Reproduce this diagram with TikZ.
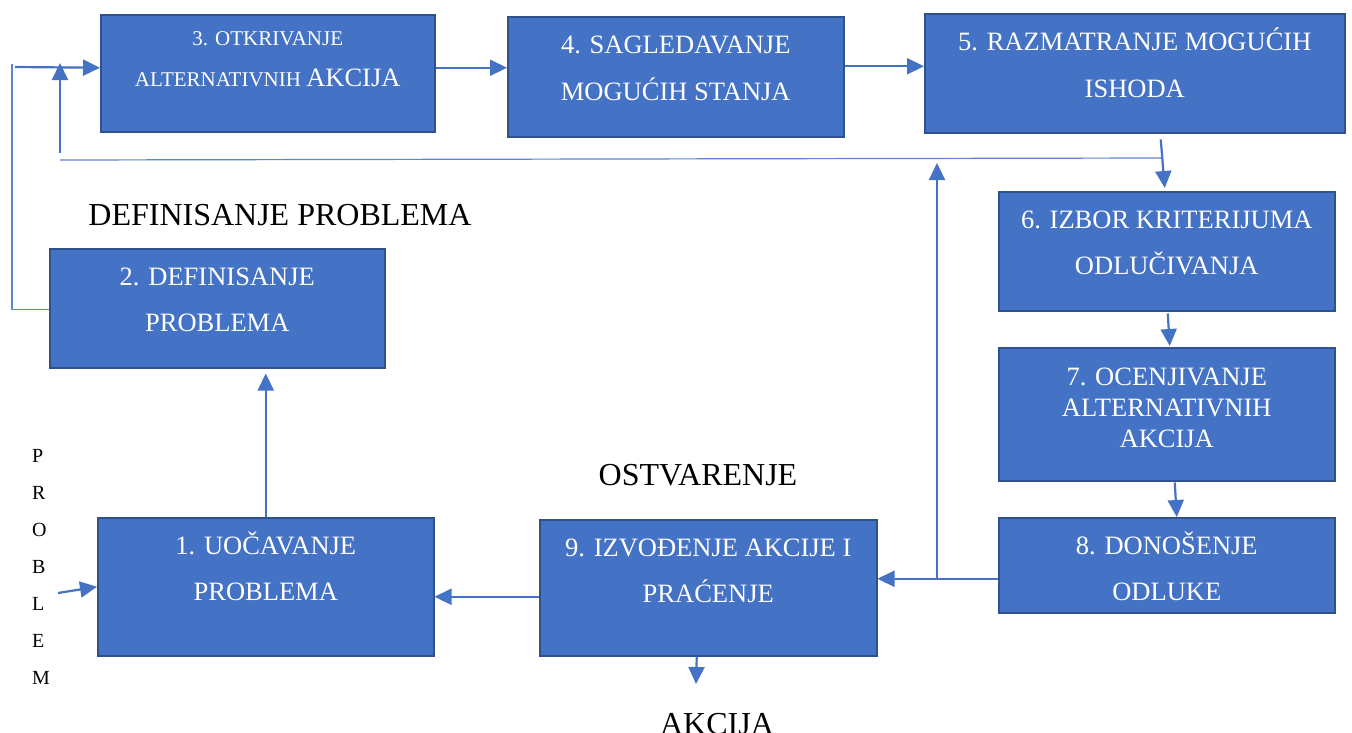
\documentclass[tikz,border=0pt]{standalone}
\usepackage{fontspec}
\setmainfont{Liberation Serif}
\usetikzlibrary{arrows.meta,calc}
\definecolor{boxblue}{HTML}{4472C4}
\definecolor{boxedge}{HTML}{2F528F}
\definecolor{linkblue}{HTML}{4472C4}
\definecolor{thinblue}{HTML}{5B86D0}
\begin{document}
\begin{tikzpicture}[x=1pt,y=-1pt,
  stage/.style={draw=boxedge, fill=boxblue, line width=1.5pt, inner sep=0pt, anchor=north west},
  % captions are anchored on the baseline of their last line
  stagetext/.style={text=white, align=center, inner sep=0pt, anchor=base,
                    font=\fontsize{26.5}{46.5}\selectfont},
  heading/.style={inner sep=0pt, anchor=base, font=\fontsize{32}{38}\selectfont},
  flow/.style={draw=linkblue, line width=2.2pt, -{Triangle[length=17pt,width=16pt]}},
  guide/.style={draw=thinblue, line width=1.2pt}]
\useasboundingbox (0,0) rectangle (1352,732);

% process stages
\node[stage, minimum width=336pt, minimum height=138pt] (b1) at (97,517) {};
\node[stage, minimum width=335pt, minimum height=119pt] (b2) at (49,248) {};
\node[stage, minimum width=334pt, minimum height=117pt] (b3) at (100,14) {};
\node[stage, minimum width=336pt, minimum height=120pt] (b4) at (507,16) {};
\node[stage, minimum width=420pt, minimum height=119pt] (b5) at (924,13) {};
\node[stage, minimum width=336pt, minimum height=119pt] (b6) at (998,191) {};
\node[stage, minimum width=336pt, minimum height=133pt] (b7) at (998,347) {};
\node[stage, minimum width=336pt, minimum height=95pt]  (b8) at (998,517) {};
\node[stage, minimum width=337pt, minimum height=136pt] (b9) at (539,519) {};

% stage captions
\node[stagetext] (t1) at ([yshift=-83.5pt]b1.north) {1. UOČAVANJE\\PROBLEMA};
\node[stagetext] (t2) at ([yshift=-83.5pt]b2.north) {2. DEFINISANJE\\PROBLEMA};
\node[stagetext, font=\fontsize{21}{41}\selectfont] (t3) at ([yshift=-72pt]b3.north)
  {3. OTKRIVANJE\\ALTERNATIVNIH {\fontsize{26.5}{41}\selectfont AKCIJA}};
\node[stagetext] (t4) at ([yshift=-84pt]b4.north) {4. SAGLEDAVANJE\\MOGUĆIH STANJA};
\node[stagetext] (t5) at ([yshift=-84pt]b5.north) {5. RAZMATRANJE MOGUĆIH\\ISHODA};
\node[stagetext] (t6) at ([yshift=-83.5pt]b6.north) {6. IZBOR KRITERIJUMA\\ODLUČIVANJA};
\node[stagetext, font=\fontsize{26.5}{31}\selectfont] (t7) at ([yshift=-100pt]b7.north)
  {7. OCENJIVANJE\\ALTERNATIVNIH\\AKCIJA};
\node[stagetext] (t8) at ([yshift=-83.5pt]b8.north) {8. DONOŠENJE\\ODLUKE};
\node[stagetext] (t9) at ([yshift=-83.5pt]b9.north) {9. IZVOĐENJE AKCIJE I\\PRAĆENJE};

% free labels
\node[heading] (lblDef) at (280,225) {DEFINISANJE PROBLEMA};
\node[heading] (lblOst) at (698,485) {OSTVARENJE};
\node[heading] (lblAk) at (717,734) {AKCIJA};
\node[inner sep=0pt, anchor=base west, align=left, font=\fontsize{20}{37}\selectfont]
  (lblP) at (32,684) {P\\R\\O\\B\\L\\E\\M};

% helper points
\coordinate (pin) at (58,593);
\coordinate (h1) at (1161,158);
\coordinate (h2) at (60,160);
\coordinate (u1) at (60,153);
\coordinate (u2) at (60,63);
\coordinate (j1) at (937,578);
\coordinate (j2) at (937,163);
\coordinate (fb) at (12,64);
\coordinate (fa) at (15,67);
\coordinate (ak) at (696,684);

% main flow
\draw[flow] ([yshift=5.5pt]b3.east) -- ([yshift=5.5pt]b3.east -| b4.west);
\draw[flow] ([yshift=10.5pt]b4.east) -- ([yshift=10.5pt]b4.east -| b5.west);
\draw[flow] ([xshift=26pt,yshift=-6pt]b5.south) -- ([xshift=-2pt,yshift=3pt]b6.north);
\draw[flow] ([xshift=1pt,yshift=-2pt]b6.south) -- ([xshift=3pt,yshift=1pt]b7.north);
\draw[flow] ([xshift=8pt,yshift=-1pt]b7.south) -- ([xshift=10pt]b8.north);
\draw[flow] ([yshift=-13.5pt]b8.west) -- ([yshift=-13.5pt]b8.west -| b9.east);
\draw[flow] ([yshift=-9pt]b9.west) -- ([yshift=-9pt]b9.west -| b1.east);
\draw[flow] (b1.north) -- ([yshift=-5pt]b1.north |- b2.south);
\draw[flow] (pin) -- (b1.west);
\draw[flow] ([xshift=-11.5pt]b9.south) -- (ak);

% feedback paths
\draw[flow] (j1) -- (j2);
\draw[guide] (h1) -- (h2);
\draw[flow] (u1) -- (u2);
\draw[guide] ([yshift=-1.5pt]b2.west) -| (fb);
\draw[flow] (fa) -- ([yshift=5.5pt]b3.west);
\end{tikzpicture}
\end{document}
